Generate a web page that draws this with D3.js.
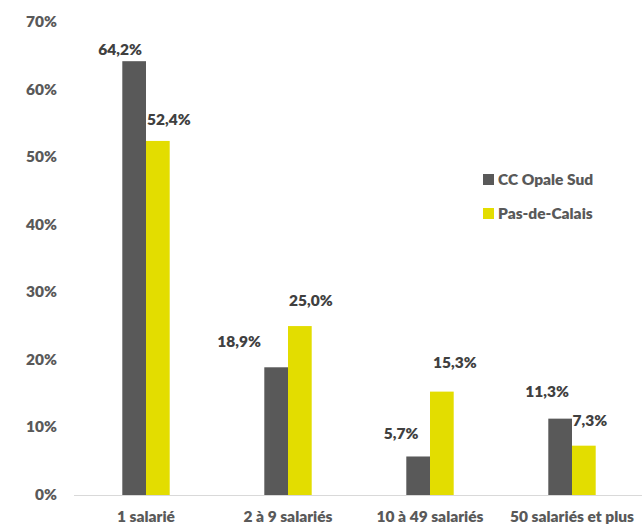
<!DOCTYPE html>
<html><head><meta charset="utf-8">
<script src="https://cdn.jsdelivr.net/npm/d3@7"></script>
<style>body{margin:0;background:#fff;}svg{display:block;font-family:Lato,"Open Sans",sans-serif;font-weight:800;}</style>
</head><body>
<script>
const categories = ["1 salarié", "2 à 9 salariés", "10 à 49 salariés", "50 salariés et plus"];
const seriesNames = ["CC Opale Sud", "Pas-de-Calais"];
const ccOpaleSud = [64.2, 18.9, 5.7, 11.3];
const pasDeCalais = [52.4, 25.0, 15.3, 7.3];
const yTicks = [0, 10, 20, 30, 40, 50, 60, 70];
const colors = ["#595959", "#e3dd00"];
// label offsets (dx, dy) relative to bar centre / top, to mimic manual placement
const labelDx = [[-14, -37, -17, -13], [11, 11, 13, 6]];
const labelDy = [[-6, -20, -17, -22], [-16, -20, -24, -20]];

const W = 642, H = 527;
const svg = d3.select("body").append("svg").attr("width", W).attr("height", H);
const x = d3.scaleBand().domain(categories).range([75, 643]).paddingInner(0).paddingOuter(0);
const y = d3.scaleLinear().domain([0, 70]).range([495, 22]);
const barW = 23.7;
const series = [ccOpaleSud, pasDeCalais];
const fs = "15.5px";

// y tick labels
svg.append("g").selectAll("text").data(yTicks).join("text")
  .attr("x", 57).attr("y", d => y(d) + 5)
  .attr("text-anchor", "end").attr("fill", "#595959").attr("font-size", fs)
  .text(d => d + "%");

// baseline
svg.append("line").attr("x1", 74).attr("x2", 642).attr("y1", y(0) + 0.5).attr("y2", y(0) + 0.5)
  .attr("stroke", "#d9d9d9").attr("stroke-width", 1.2);

series.forEach((vals, si) => {
  const g = svg.append("g");
  g.selectAll("rect").data(vals).join("rect")
    .attr("x", (d, i) => x(categories[i]) + x.bandwidth() / 2 - barW + si * barW)
    .attr("y", d => y(d))
    .attr("width", barW)
    .attr("height", d => y(0) - y(d))
    .attr("fill", colors[si]);
  g.selectAll("text").data(vals).join("text")
    .attr("x", (d, i) => x(categories[i]) + x.bandwidth() / 2 - barW / 2 + si * barW + labelDx[si][i])
    .attr("y", (d, i) => y(d) + labelDy[si][i])
    .attr("text-anchor", "middle").attr("fill", "#404040").attr("font-size", fs)
    .text(d => d.toFixed(1).replace(".", ",") + "%");
});

// category labels
svg.append("g").selectAll("text").data(categories).join("text")
  .attr("x", d => x(d) + x.bandwidth() / 2).attr("y", 522)
  .attr("text-anchor", "middle").attr("fill", "#595959").attr("font-size", fs)
  .text(d => d);

// legend
const leg = svg.append("g");
seriesNames.forEach((n, i) => {
  leg.append("rect").attr("x", 483).attr("y", 174 + i * 34).attr("width", 11).attr("height", 11).attr("fill", colors[i]);
  leg.append("text").attr("x", 498).attr("y", 185 + i * 34).attr("fill", "#595959").attr("font-size", fs).text(n);
});
</script>
</body></html>
